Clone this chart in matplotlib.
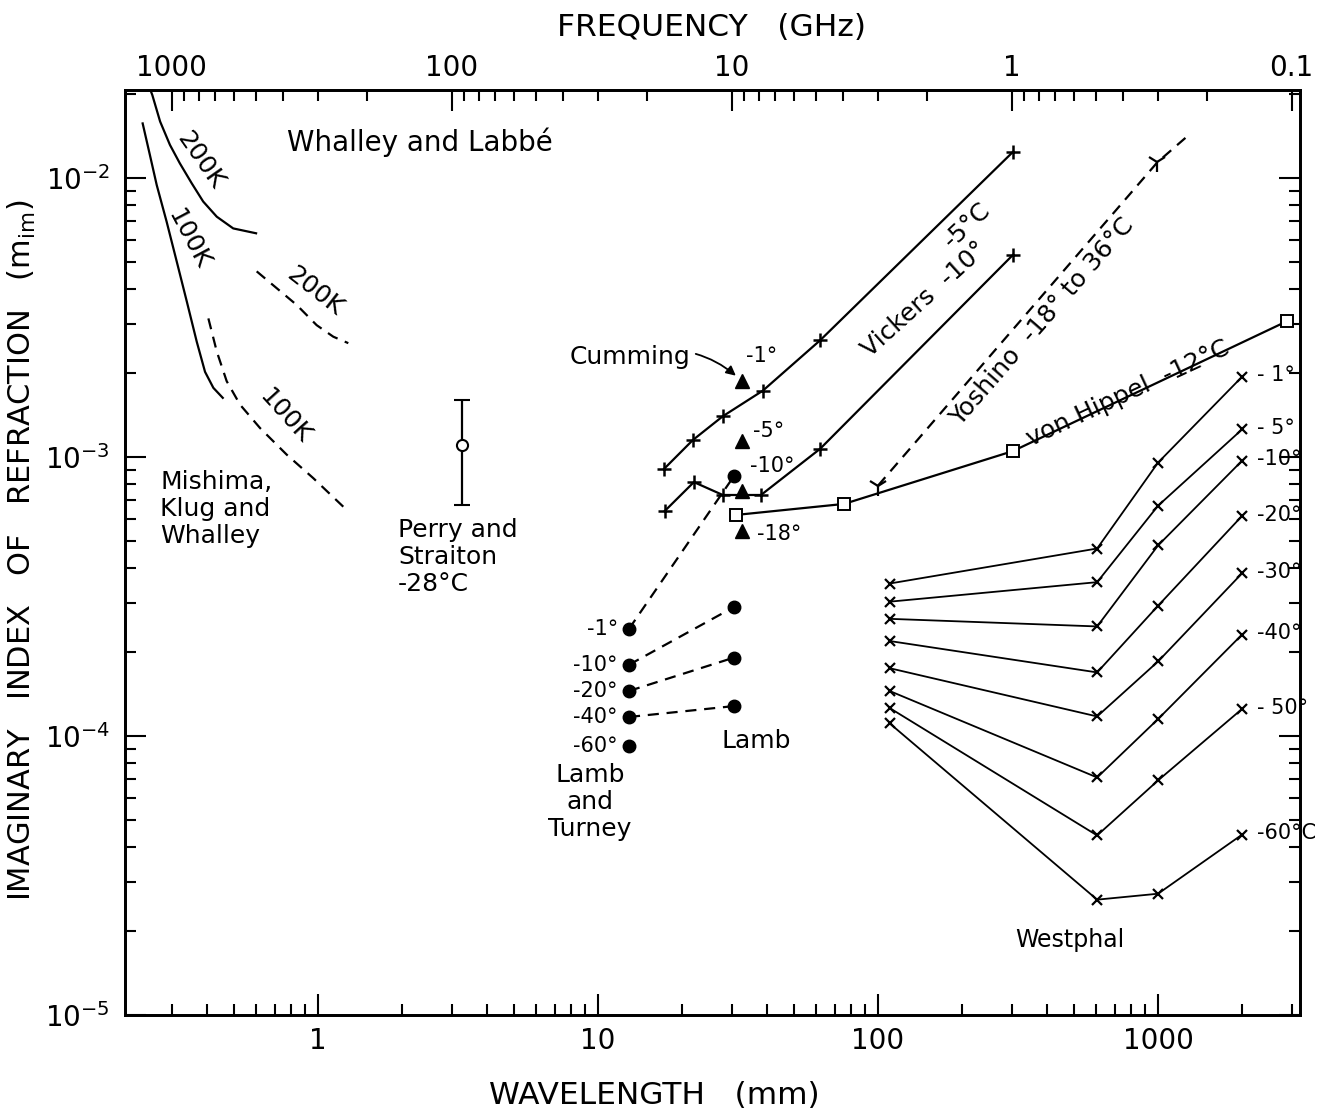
import numpy as np
import matplotlib
matplotlib.use('Agg')
import matplotlib.pyplot as plt
from matplotlib.ticker import (LogLocator, FixedLocator, FixedFormatter,
                               NullFormatter, FuncFormatter, LogFormatterMathtext)

plt.rcParams['font.family'] = ['DejaVu Sans']
plt.rcParams['mathtext.default'] = 'regular'

# ---- data: wavelength in mm, imaginary index m_im ----
# Whalley and Labbe (solid) curves
wl200_wave = [0.252, 0.256, 0.273, 0.296, 0.321, 0.354, 0.389, 0.435, 0.498, 0.601]
wl200_m = [0.0207, 0.01986, 0.01595, 0.01315, 0.0113, 0.00958, 0.00824, 0.00727, 0.0066, 0.00634]
wl100_wave = [0.2365, 0.251, 0.2655, 0.288, 0.313, 0.340, 0.369, 0.395, 0.423, 0.457]
wl100_m = [0.0157, 0.0121, 0.00944, 0.00698, 0.00502, 0.00361, 0.00259, 0.00202, 0.00177, 0.00163]
# Mishima, Klug and Whalley (dashed) curves
mk200_wave = [0.604, 0.712, 0.839, 0.989, 1.134, 1.283]
mk200_m = [0.00463, 0.00403, 0.00351, 0.00297, 0.0027, 0.00256]
mk100_wave = [0.406, 0.435, 0.472, 0.527, 0.621, 0.773, 0.962, 1.283]
mk100_m = [0.00314, 0.00239, 0.00187, 0.00154, 0.00127, 0.00102, 0.00084, 0.000638]

# Perry and Straiton
perry_wave = 3.27
perry_m = 0.0011
perry_lo = 0.000673
perry_hi = 0.0016

# Vickers
vick5_wave = [17.2, 21.8, 27.9, 38.8, 62.1, 303]
vick5_m = [9.06e-4, 1.15e-3, 1.40e-3, 1.73e-3, 2.62e-3, 1.24e-2]
vick10_wave = [17.3, 22.0, 27.9, 38.2, 62.1, 303]
vick10_m = [6.40e-4, 8.13e-4, 7.31e-4, 7.31e-4, 1.07e-3, 5.30e-3]

# Cumming
cum_wave = 32.7
cum_m = [1.87e-3, 1.14e-3, 7.55e-4, 5.43e-4]
cum_temps = ['-1°', '-5°', '-10°', '-18°']

# Lamb and Turney, Lamb
lt_wave = 12.9
lt_m = [2.42e-4, 1.80e-4, 1.45e-4, 1.17e-4, 9.2e-5]
lt_temps = ['-1°', '-10°', '-20°', '-40°', '-60°']
lamb_wave = 30.6
lamb_m = [8.55e-4, 2.90e-4, 1.91e-4, 1.28e-4]

# von Hippel
vh_wave = [31.1, 75.6, 303, 2890]
vh_m = [6.2e-4, 6.79e-4, 1.05e-3, 3.07e-3]

# Yoshino (last point is the dashed continuation)
yosh_wave = [100, 995, 1280]
yosh_m = [7.9e-4, 1.14e-2, 1.42e-2]

# Westphal
wp_wave = [110, 606, 1000, 1995]
wp_temps = ['- 1°', '- 5°', '-10°', '-20°', '-30°', '-40°', '- 50°', '-60°C']
wp_m = [
    [3.52e-4, 4.70e-4, 9.55e-4, 1.94e-3],
    [3.03e-4, 3.56e-4, 6.69e-4, 1.256e-3],
    [2.63e-4, 2.47e-4, 4.82e-4, 9.70e-4],
    [2.19e-4, 1.69e-4, 2.93e-4, 6.15e-4],
    [1.75e-4, 1.175e-4, 1.85e-4, 3.83e-4],
    [1.45e-4, 7.10e-5, 1.15e-4, 2.31e-4],
    [1.26e-4, 4.40e-5, 6.93e-5, 1.25e-4],
    [1.11e-4, 2.59e-5, 2.72e-5, 4.43e-5],
]

freq_ticks = [1000, 100, 10, 1, 0.1]
freq_labels = ['1000', '100', '10', '1', '0.1']

XLIM = (0.2046, 3215)
YLIM = (1e-5, 0.0207)

fig = plt.figure(figsize=(13.33, 11.13), dpi=100)
ax = fig.add_axes([0.0938, 0.0881, 0.8815, 0.8311])
ax.set_xscale('log')
ax.set_yscale('log')
ax.set_xlim(*XLIM)
ax.set_ylim(*YLIM)

LW = 1.6
DASH = (0, (5, 3.5))

# curves
ax.plot(wl200_wave, wl200_m, 'k-', lw=LW)
ax.plot(wl100_wave, wl100_m, 'k-', lw=LW)
ax.plot(mk200_wave, mk200_m, 'k', lw=LW, ls=DASH)
ax.plot(mk100_wave, mk100_m, 'k', lw=LW, ls=DASH)

# Perry and Straiton
ax.errorbar([perry_wave], [perry_m], yerr=[[perry_m - perry_lo], [perry_hi - perry_m]],
            fmt='o', ms=8, mfc='white', mec='k', mew=1.5, ecolor='k', elinewidth=LW,
            capsize=6, capthick=LW)

# Vickers
ax.plot(vick5_wave, vick5_m, 'k-', lw=LW, marker='+', ms=10, mew=1.8)
ax.plot(vick10_wave, vick10_m, 'k-', lw=LW, marker='+', ms=10, mew=1.8)

# Lamb and Turney to Lamb
for m1, m2 in zip(lt_m, lamb_m):
    ax.plot([lt_wave, lamb_wave], [m1, m2], 'k', lw=LW, ls=DASH)
ax.plot([lt_wave] * len(lt_m), lt_m, 'ko', ms=9, ls='none')
ax.plot([lamb_wave] * len(lamb_m), lamb_m, 'ko', ms=9, ls='none')

# Cumming
ax.plot([cum_wave] * len(cum_m), cum_m, 'k^', ms=10, ls='none')

# von Hippel
ax.plot(vh_wave, vh_m, 'k-', lw=LW, marker='s', ms=8, mfc='white', mec='k', mew=1.4)

# Yoshino
ax.plot(yosh_wave, yosh_m, 'k', lw=LW, ls=DASH, marker='1', ms=15, mew=1.6, markevery=[0, 1])

# Westphal
for row in wp_m:
    ax.plot(wp_wave, row, 'k-', lw=1.3, marker='x', ms=6.5, mew=1.6)

# ---- labels ----
FS = 18
SM = 15
txt = dict(color='k', fontsize=FS)
rot = dict(ha='center', va='center', rotation_mode='anchor')

ax.text(2.31, 0.01345, 'Whalley and Labbé', ha='center', va='center', fontsize=20)
ax.text(0.379, 0.0116, '200K', rotation=-55, **rot, **txt)
ax.text(0.3435, 0.00604, '100K', rotation=-62, **rot, **txt)
ax.text(0.976, 0.00392, '200K', rotation=-38, **rot, **txt)
ax.text(0.762, 0.0014, '100K', rotation=-48, **rot, **txt)
ax.text(0.273, 0.000897, 'Mishima,\nKlug and\nWhalley', ha='left', va='top', linespacing=1.15, **txt)
ax.text(1.93, 0.000604, 'Perry and\nStraiton\n-28°C', ha='left', va='top', linespacing=1.15, **txt)

ax.annotate('Cumming', xy=(cum_wave, cum_m[0]), xytext=(13.0, 0.00228),
            ha='center', va='center', fontsize=FS,
            arrowprops=dict(arrowstyle='-|>', color='k', lw=1.3, mutation_scale=14,
                            connectionstyle='arc3,rad=-0.3', shrinkA=2, shrinkB=6))
cum_offsets = [(3, 18), (8, 7), (6, 18), (11, -2)]
for m, t, off in zip(cum_m, cum_temps, cum_offsets):
    ax.annotate(t, xy=(cum_wave, m), xytext=off, textcoords='offset points',
                ha='left', va='center', fontsize=SM)

for m, t in zip(lt_m, lt_temps):
    ax.annotate(t, xy=(lt_wave, m), xytext=(-8, 0), textcoords='offset points',
                ha='right', va='center', fontsize=SM)
ax.text(36.7, 9.6e-5, 'Lamb', ha='center', va='center', **txt)
ax.text(9.36, 8.0e-5, 'Lamb\nand\nTurney', ha='center', va='top', linespacing=1.15, **txt)

ax.text(146, 0.00366, 'Vickers  -10°', rotation=42, **rot, **txt)
ax.text(208, 0.00679, '-5°C', rotation=43, **rot, **txt)
ax.text(385, 0.00305, 'Yoshino  -18° to 36°C', rotation=49, **rot, **txt)
ax.text(781, 0.00169, 'von Hippel  -12°C', rotation=25, **rot, **txt)

for row, t in zip(wp_m, wp_temps):
    ax.annotate(t, xy=(wp_wave[-1], row[-1]), xytext=(11, 1), textcoords='offset points',
                ha='left', va='center', fontsize=SM, annotation_clip=False)
ax.text(485, 1.86e-5, 'Westphal', ha='center', va='center', fontsize=17)

# ---- axes styling ----
for s in ax.spines.values():
    s.set_linewidth(2)

ax.xaxis.set_major_locator(FixedLocator([1, 10, 100, 1000]))
ax.xaxis.set_major_formatter(FuncFormatter(lambda v, p: f'{v:g}'))
ax.xaxis.set_minor_locator(LogLocator(base=10, subs=np.arange(2, 10), numticks=30))
ax.xaxis.set_minor_formatter(NullFormatter())
ax.yaxis.set_major_locator(LogLocator(base=10, numticks=10))
ax.yaxis.set_major_formatter(LogFormatterMathtext())
ax.yaxis.set_minor_locator(LogLocator(base=10, subs=np.arange(2, 10), numticks=30))
ax.yaxis.set_minor_formatter(NullFormatter())

ax.tick_params(which='both', direction='in', width=1.5, right=True, top=False, labelsize=20)
ax.tick_params(which='major', length=15)
ax.tick_params(which='minor', length=8)
ax.tick_params(axis='x', which='major', pad=9)
ax.tick_params(axis='y', which='major', pad=11)

# frequency axis on top
ax2 = ax.twiny()
ax2.set_xscale('log')
ax2.set_xlim(300 / XLIM[0], 300 / XLIM[1])
ax2.xaxis.set_major_locator(FixedLocator(freq_ticks))
ax2.xaxis.set_major_formatter(FixedFormatter(freq_labels))
ax2.xaxis.set_minor_locator(LogLocator(base=10, subs=np.arange(2, 10), numticks=30))
ax2.xaxis.set_minor_formatter(NullFormatter())
ax2.tick_params(which='both', direction='in', width=1.5, labelsize=20, pad=6)
ax2.tick_params(which='major', length=15)
ax2.tick_params(which='minor', length=8)
for s in ax2.spines.values():
    s.set_linewidth(2)

fig.text(0.534, 0.975, 'FREQUENCY   (GHz)', ha='center', va='center', fontsize=22.5)
fig.text(0.491, 0.016, 'WAVELENGTH   (mm)', ha='center', va='center', fontsize=22.5)
fig.text(0.0165, 0.506, 'IMAGINARY   INDEX   OF   REFRACTION   (m$_{im}$)', rotation=90,
         ha='center', va='center', fontsize=22)

fig.savefig('out.png', dpi=100)
